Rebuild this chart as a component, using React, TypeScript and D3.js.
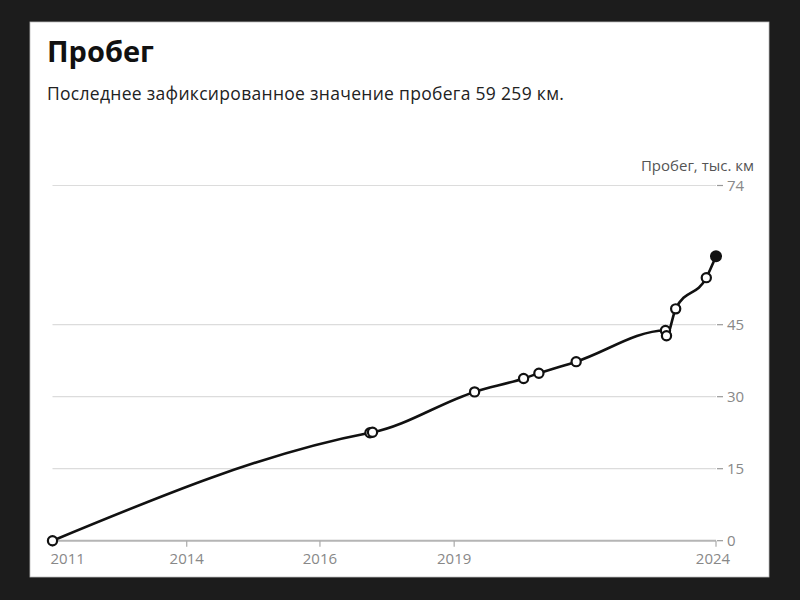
import React from "react";
import * as d3 from "d3";

// Data: decimal year, mileage (thousand km)
const years = [2011.0, 2017.22, 2017.27, 2019.27, 2020.23, 2020.53, 2021.26, 2023.01, 2023.03, 2023.21, 2023.81, 2024.0];
const mileage = [0, 22.5, 22.6, 31.0, 33.8, 34.9, 37.3, 43.8, 42.7, 48.3, 54.8, 59.259];

const xTickValues = [2011, 2013.63, 2016.24, 2018.87, 2024];
const xTickLabels = ["2011", "2014", "2016", "2019", "2024"];
const yTickValues = [0, 15, 30, 45, 74];

const title = "Пробег";
const subtitle = "Последнее зафиксированное значение пробега 59 259 км.";
const yTitle = "Пробег, тыс. км";

export default function App() {
  const W = 800, H = 600;
  const x = d3.scaleLinear().domain([2011, 2024]).range([52.5, 716]);
  const y = d3.scaleLinear().domain([0, 74]).range([540.7, 185.5]);
  const pts = years.map((yr, i) => ({ yr, v: mileage[i] }));
  const line = d3
    .line<{ yr: number; v: number }>()
    .x((d) => x(d.yr))
    .y((d) => y(d.v))
    .curve(d3.curveMonotoneX);
  const font = "'Open Sans', Lato, sans-serif";
  const last = pts[pts.length - 1];

  return (
    <svg width={W} height={H} style={{ position: "absolute", left: 0, top: 0 }} fontFamily={font}>
      <rect x={0} y={0} width={W} height={H} fill="#1c1c1c" />
      <rect x={30} y={22} width={739} height={555} fill="#ffffff" stroke="#bdbdbd" strokeWidth={0.8} />
      <text x={47} y={62} fontSize={29} fontWeight={700} fill="#111">{title}</text>
      <text x={47} y={100} fontSize={17.5} letterSpacing={0.3} fill="#222">{subtitle}</text>

      {/* gridlines */}
      {yTickValues.map((t) => (
        <g key={t}>
          <line
            x1={x(2011)}
            x2={x(2024)}
            y1={y(t)}
            y2={y(t)}
            stroke={t === 0 ? "#b5b5b5" : "#dcdcdc"}
            strokeWidth={t === 0 ? 2 : 1.2}
          />
          <line x1={x(2024) + 1} x2={x(2024) + 7} y1={y(t)} y2={y(t)} stroke="#999" strokeWidth={1.2} />
          <text x={727} y={y(t)} dy="0.36em" fontSize={15} fill="#888">{t}</text>
        </g>
      ))}
      <text x={754} y={171} fontSize={15} fill="#555" textAnchor="end">{yTitle}</text>

      {/* x ticks */}
      {xTickValues.map((t, i) => (
        <g key={i}>
          <line x1={x(t)} x2={x(t)} y1={y(0)} y2={y(0) + 6} stroke="#aaa" strokeWidth={1.2} />
          <text
            x={i === 0 ? 50.5 : i === xTickValues.length - 1 ? x(t) - 3 : x(t)}
            y={564}
            fontSize={15}
            fill="#888"
            textAnchor={i === 0 ? "start" : "middle"}
          >
            {xTickLabels[i]}
          </text>
        </g>
      ))}

      <path d={line(pts) || ""} fill="none" stroke="#111" strokeWidth={2.6} strokeLinejoin="round" />
      {pts.slice(0, -1).map((d, i) => (
        <circle key={i} cx={x(d.yr)} cy={y(d.v)} r={4.6} fill="#fff" stroke="#111" strokeWidth={2.2} />
      ))}
      <circle cx={x(last.yr)} cy={y(last.v)} r={6} fill="#111" />
    </svg>
  );
}
